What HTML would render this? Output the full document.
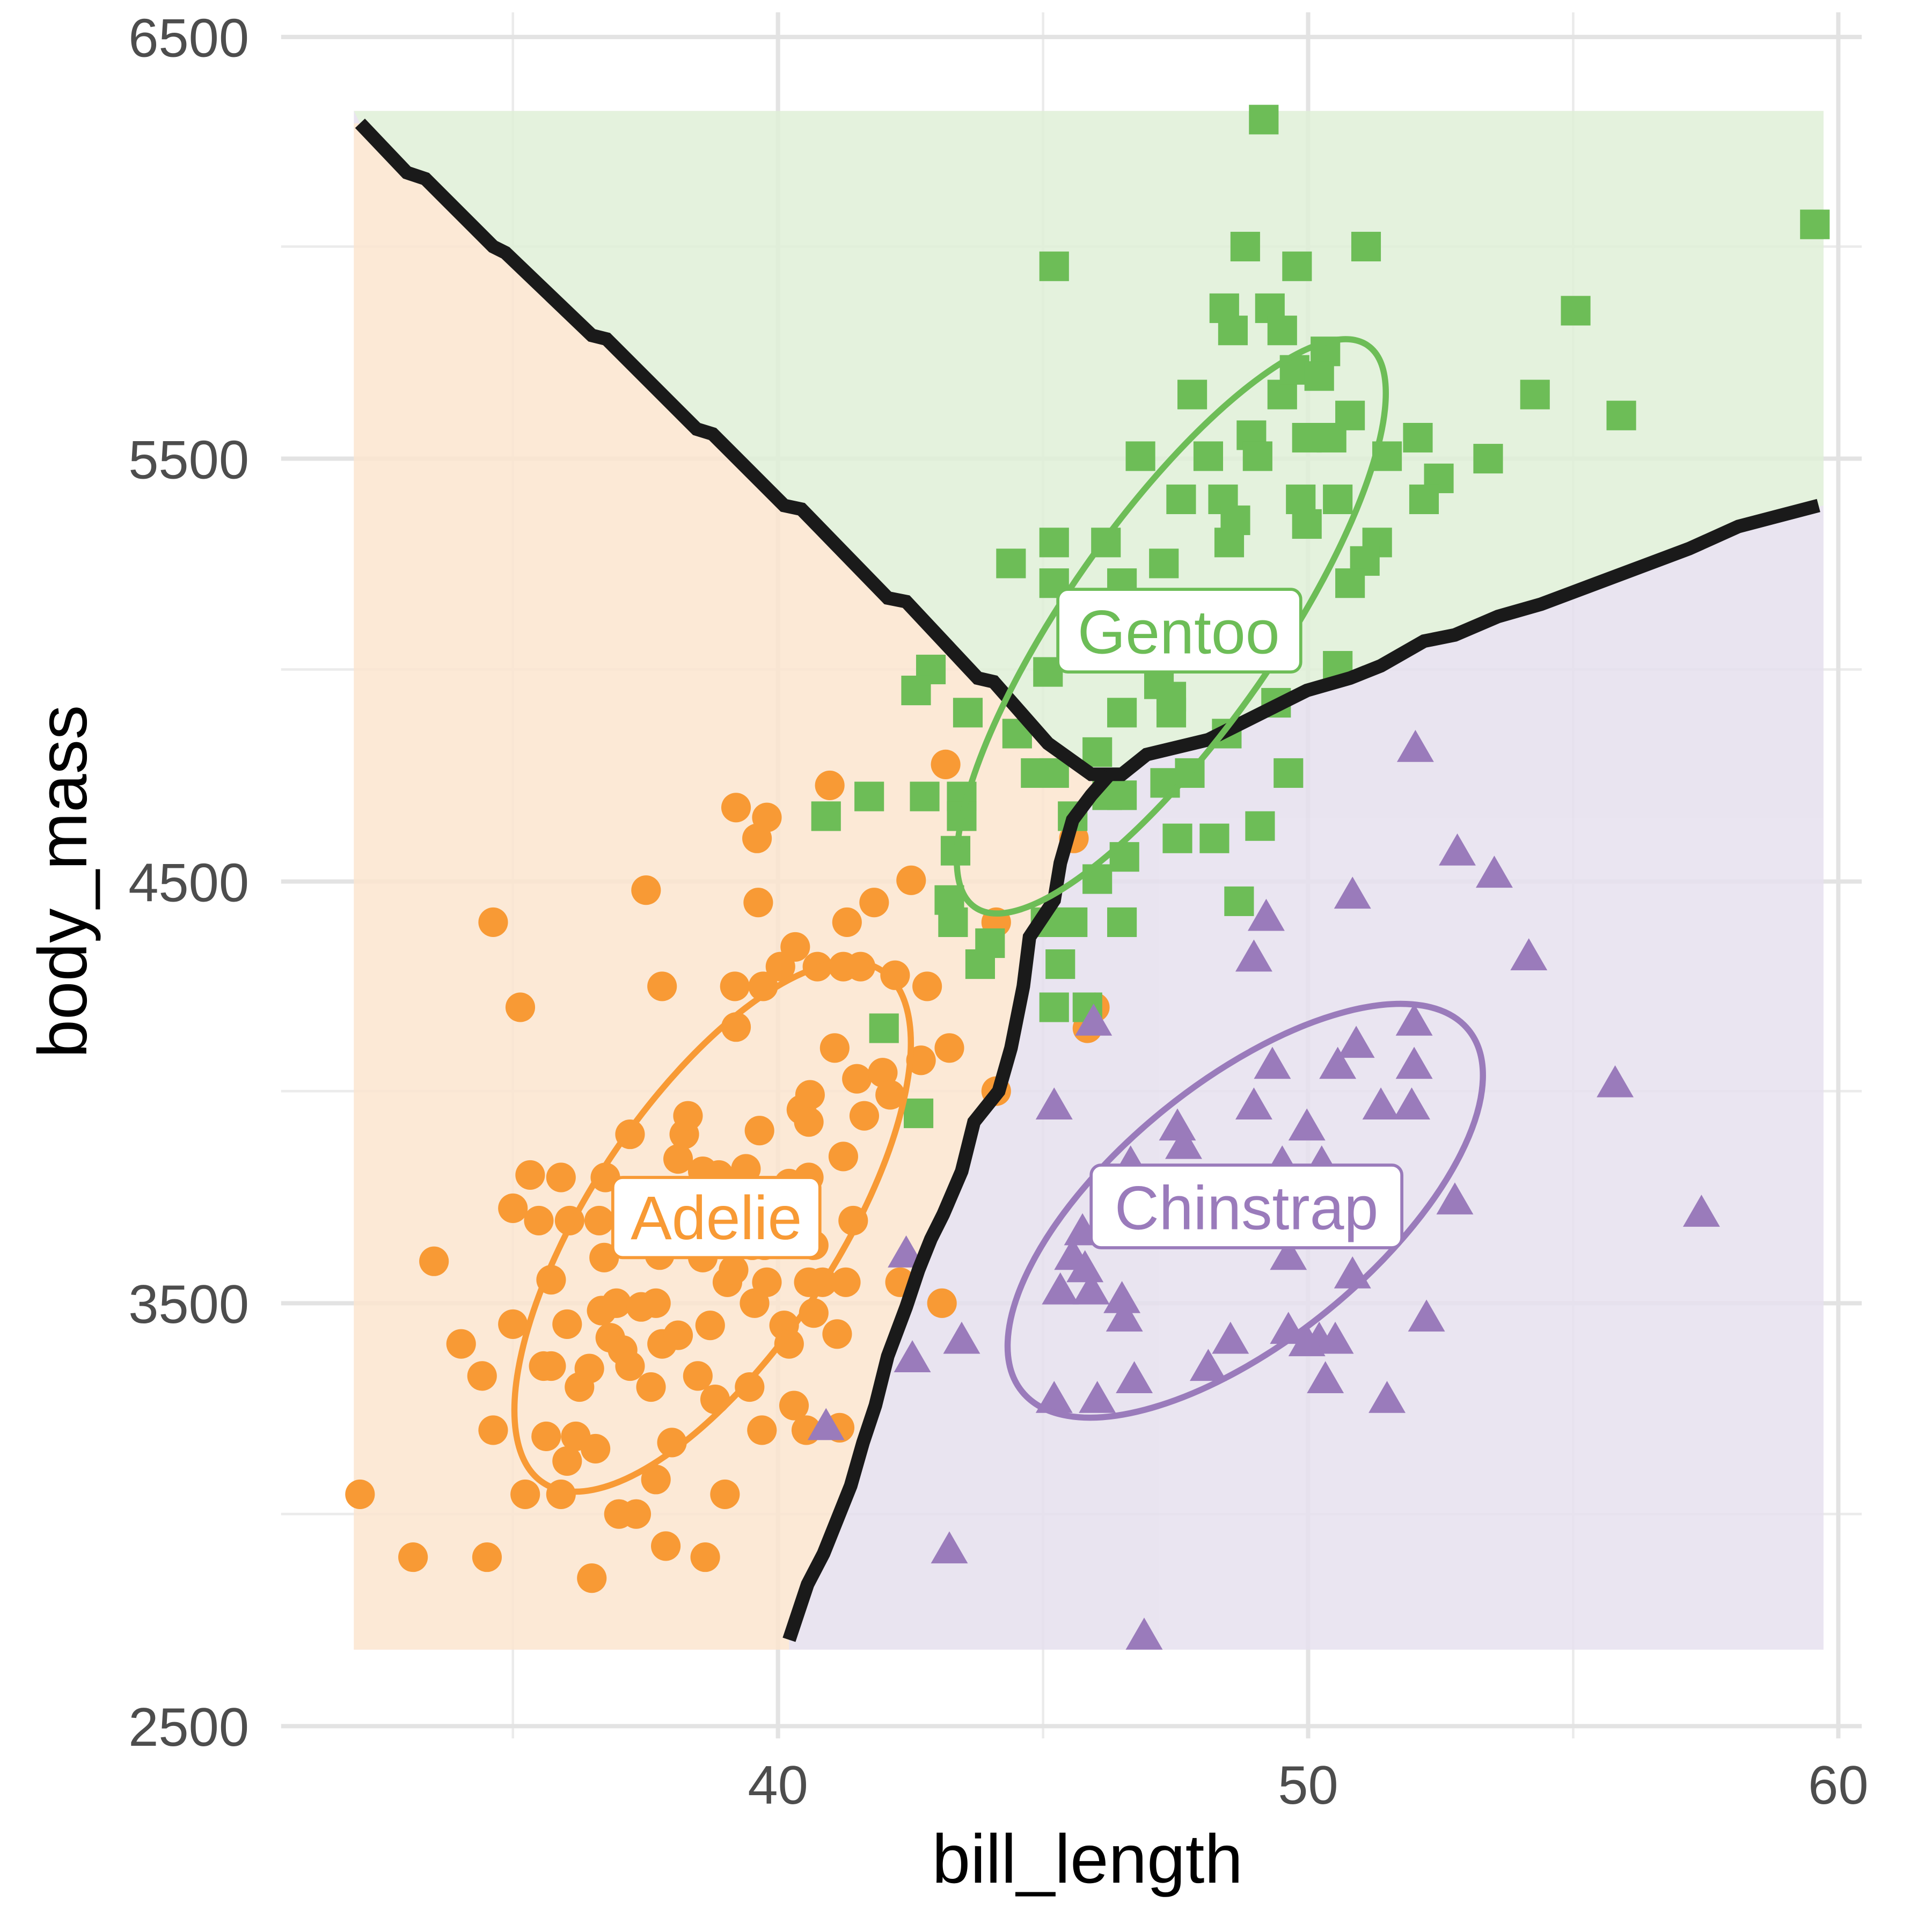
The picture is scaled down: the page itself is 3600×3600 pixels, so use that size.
<!DOCTYPE html>
<html><head><style>html,body{margin:0;padding:0;background:#fff}svg{display:block}</style></head>
<body>
<svg width="3600" height="3600" viewBox="0 0 1567 1567" xmlns="http://www.w3.org/2000/svg" font-family="Liberation Sans, sans-serif">
<rect width="1567" height="1567" fill="#fff"/>
<g stroke="#ebebeb" stroke-width="2">
<line x1="228" x2="1510" y1="200" y2="200"/><line x1="228" x2="1510" y1="543" y2="543"/><line x1="228" x2="1510" y1="885" y2="885"/><line x1="228" x2="1510" y1="1228" y2="1228"/>
<line x1="416" x2="416" y1="10" y2="1410"/><line x1="846" x2="846" y1="10" y2="1410"/><line x1="1276" x2="1276" y1="10" y2="1410"/>
</g>
<g stroke="#e3e3e3" stroke-width="3.5">
<line x1="228" x2="1510" y1="30" y2="30"/><line x1="228" x2="1510" y1="372" y2="372"/><line x1="228" x2="1510" y1="715" y2="715"/><line x1="228" x2="1510" y1="1057" y2="1057"/><line x1="228" x2="1510" y1="1400" y2="1400"/>
<line x1="631" x2="631" y1="10" y2="1410"/><line x1="1061" x2="1061" y1="10" y2="1410"/><line x1="1491" x2="1491" y1="10" y2="1410"/>
</g>
<g opacity="0.85">
<rect x="287" y="90" width="1192" height="1248" fill="#e6e0ee"/>
<polygon fill="#e0f0d8" points="287,90 1479,90 1479,410 1410,427 1370,445 1330,460 1290,475 1250,490 1215,500 1180,515 1155,520 1120,540 1095,550 1060,560 1000,590 980,600 930,612 910,628 885,628 850,603 806,553 793,550 735,488 720,485 650,413 636,410 578,352 565,348 492,275 480,272 410,205 400,200 345,145 330,140 292,100"/>
<polygon fill="#fce6d0" points="287,100 292,100 330,140 345,145 400,200 410,205 480,272 492,275 565,348 578,352 636,410 650,413 720,485 735,488 793,550 806,553 850,603 885,628 900,628 885,645 870,665 860,700 855,730 835,760 830,800 820,850 810,885 790,910 780,950 765,985 755,1005 745,1030 735,1060 720,1100 710,1140 700,1170 690,1205 680,1230 668,1260 655,1285 640,1330 640,1338 287,1338"/>
</g>
<g fill="#f89a35" id="ad"></g>
<g fill="#6dbd57" id="ge"></g>
<g fill="#9a7bbb" id="ch"></g>
<polyline fill="none" stroke="#1a1a1a" stroke-width="11" points="292,100 330,140 345,145 400,200 410,205 480,272 492,275 565,348 578,352 636,410 650,413 720,485 735,488 793,550 806,553 850,603 885,628 910,628 930,612 980,600 1000,590 1060,560 1095,550 1120,540 1155,520 1180,515 1215,500 1250,490 1290,475 1330,460 1370,445 1410,427 1475,410"/>
<polyline fill="none" stroke="#1a1a1a" stroke-width="11" points="640,1330 655,1285 668,1260 680,1230 690,1205 700,1170 710,1140 720,1100 735,1060 745,1030 755,1005 765,985 780,950 790,910 810,885 820,850 830,800 835,760 855,730 860,700 870,665 885,645 900,628"/>
<g fill="none" stroke-width="5">
<ellipse cx="578" cy="995" rx="249" ry="100" transform="rotate(-56.5 578 995)" stroke="#f89a35"/>
<ellipse cx="950" cy="508" rx="278" ry="85" transform="rotate(-55 950 508)" stroke="#6dbd57"/>
<ellipse cx="1010" cy="982" rx="233" ry="105" transform="rotate(-39 1010 982)" stroke="#9a7bbb"/>
</g>
<g font-size="50">
<rect x="858" y="478" width="197" height="67" rx="8" fill="#fff" stroke="#6dbd57" stroke-width="2.5"/>
<text x="956" y="530" text-anchor="middle" fill="#6dbd57">Gentoo</text>
<rect x="497" y="955" width="168" height="65" rx="8" fill="#fff" stroke="#f89a35" stroke-width="2.5"/>
<text x="581" y="1005" text-anchor="middle" fill="#f89a35">Adelie</text>
<rect x="885" y="945" width="252" height="67" rx="8" fill="#fff" stroke="#9a7bbb" stroke-width="2.5"/>
<text x="1011" y="997" text-anchor="middle" fill="#9a7bbb">Chinstrap</text>
</g>
<g font-size="44" fill="#4d4d4d" text-anchor="end">
<text x="202" y="46">6500</text><text x="202" y="388">5500</text><text x="202" y="731">4500</text><text x="202" y="1073">3500</text><text x="202" y="1416">2500</text>
</g>
<g font-size="44" fill="#4d4d4d" text-anchor="middle">
<text x="631" y="1463">40</text><text x="1061" y="1463">50</text><text x="1491" y="1463">60</text>
</g>
<text x="882" y="1527" font-size="56" text-anchor="middle" fill="#000">bill_length</text>
<text transform="translate(70,715) rotate(-90)" font-size="56" text-anchor="middle" fill="#000">body_mass</text>
<script>
var NS="http://www.w3.org/2000/svg";
var A=[[292,1212],[335,1263],[395,1263],[352,1023],[400,748],[422,817],[374,1090],[391,1116],[400,1160],[416,980],[416,1074],[430,953],[426,1212],[437,990],[441,1108],[447,1108],[443,1165],[447,1038],[455,955],[455,1212],[460,1074],[460,1185],[462,990],[467,1165],[470,1125],[478,1110],[480,1280],[483,1175],[486,990],[488,1063],[491,955],[495,1085],[500,1057],[502,1228],[505,1095],[511,1108],[511,920],[516,1228],[520,1060],[524,722],[528,1125],[532,1057],[532,1200],[537,800],[537,1090],[540,1254],[545,1170],[550,1083],[550,940],[555,920],[558,905],[560,1000],[566,1116],[570,950],[572,1263],[576,1075],[580,1135],[583,953],[588,1212],[590,1040],[596,800],[597,655],[597,833],[600,1000],[605,948],[608,1125],[612,1057],[614,680],[615,732],[616,917],[618,1160],[619,800],[622,663],[622,1040],[633,784],[636,1075],[640,1090],[644,1140],[645,768],[650,900],[654,1160],[656,1040],[656,955],[657,888],[660,1065],[663,784],[667,1040],[673,637],[677,850],[679,1082],[681,1158],[684,784],[684,938],[686,1040],[687,748],[692,990],[695,875],[698,784],[701,905],[709,732],[716,870],[722,888],[726,791],[730,1040],[739,714],[747,860],[752,800],[764,1057],[767,620],[770,850],[808,885],[808,748],[871,680],[882,834],[888,817],[651,1000],[656,910],[660,1010],[620,1010],[640,990],[595,1030],[535,1018],[510,1000],[490,1020],[640,960],[610,1010],[570,1020]];
var G=[[1025,97],[1472,182],[855,216],[1010,200],[1052,216],[1108,200],[993,250],[1030,250],[1000,268],[1040,268],[1278,252],[1245,320],[1315,337],[967,320],[1040,320],[1075,285],[1050,300],[1070,305],[1095,337],[1015,353],[1060,355],[1080,355],[1150,355],[925,370],[980,370],[1020,370],[1125,370],[1207,372],[1167,388],[958,405],[992,405],[1055,405],[1085,405],[1155,405],[1002,422],[1060,425],[997,440],[855,440],[897,440],[1117,440],[820,457],[944,457],[1107,455],[855,473],[910,473],[1095,473],[880,523],[907,523],[1085,540],[755,543],[743,560],[850,545],[940,555],[950,565],[785,578],[910,578],[950,578],[825,595],[995,595],[1035,570],[890,610],[840,627],[855,627],[945,635],[965,627],[1045,627],[670,662],[705,646],[750,646],[780,646],[910,645],[898,645],[870,662],[780,662],[955,680],[985,680],[1022,670],[775,690],[912,695],[890,713],[770,730],[1005,731],[848,748],[870,748],[910,748],[773,748],[803,765],[860,782],[795,782],[855,817],[882,817],[717,834],[745,903]];
var C=[[1148,608],[1182,692],[1212,710],[1097,727],[1027,745],[1017,778],[1240,777],[887,830],[1147,830],[1100,848],[1085,865],[1032,865],[1310,880],[1147,865],[855,898],[1017,898],[1060,915],[1120,898],[1145,898],[955,915],[917,945],[960,930],[1107,960],[915,960],[1040,945],[1072,945],[1180,975],[1380,985],[878,1000],[932,1000],[1120,1000],[870,1020],[880,1030],[1045,1020],[1097,1035],[860,1048],[885,1048],[910,1055],[735,1018],[912,1070],[1157,1070],[780,1088],[740,1103],[998,1088],[1070,1088],[1083,1088],[980,1110],[920,1120],[1075,1120],[855,1136],[890,1136],[1125,1136],[670,1158],[770,1258],[928,1328],[1045,1080],[1060,1090]];
var ga=document.getElementById("ad"),gg=document.getElementById("ge"),gc=document.getElementById("ch");
A.forEach(function(p){var e=document.createElementNS(NS,"circle");e.setAttribute("cx",p[0]);e.setAttribute("cy",p[1]);e.setAttribute("r",12);ga.appendChild(e);});
G.forEach(function(p){var e=document.createElementNS(NS,"rect");e.setAttribute("x",p[0]-12);e.setAttribute("y",p[1]-12);e.setAttribute("width",24);e.setAttribute("height",24);gg.appendChild(e);});
C.forEach(function(p){var e=document.createElementNS(NS,"polygon");var x=p[0],y=p[1];e.setAttribute("points",(x-15)+","+(y+10)+" "+(x+15)+","+(y+10)+" "+x+","+(y-16));gc.appendChild(e);});
</script>
</svg>
</body></html>
